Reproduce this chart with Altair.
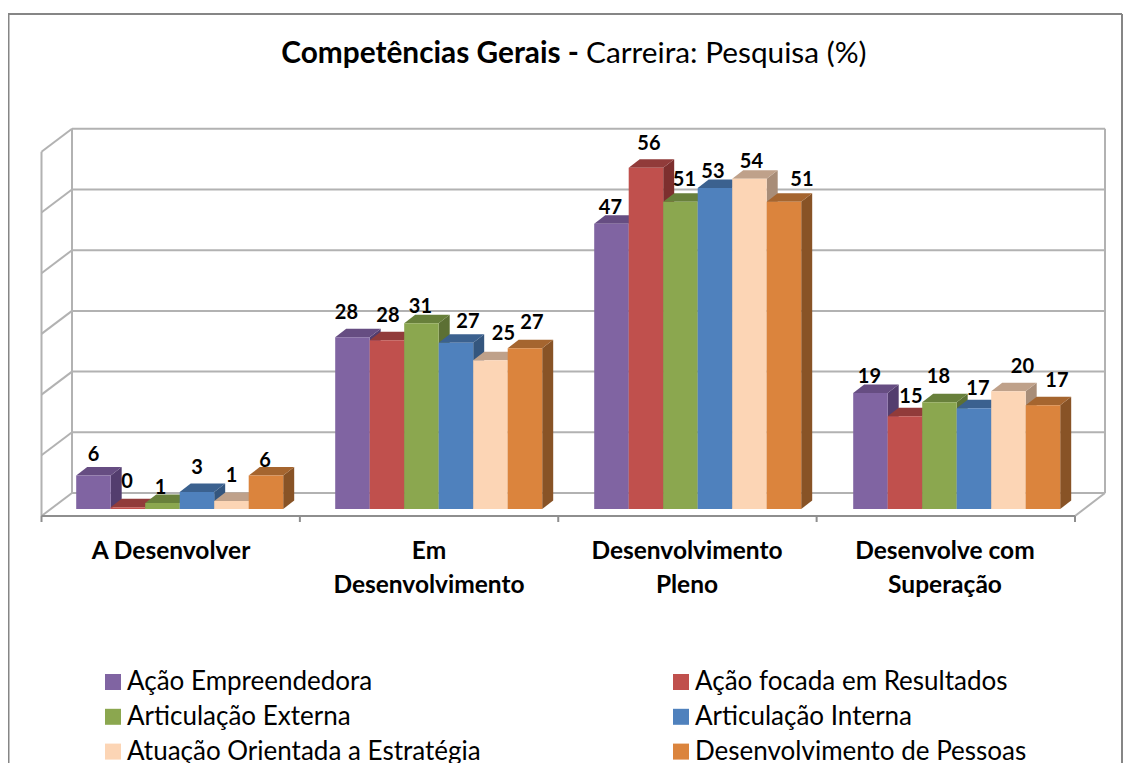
import altair as alt
import pandas as pd

categories = ["A Desenvolver", "Em\nDesenvolvimento", "Desenvolvimento\nPleno", "Desenvolve com\nSuperação"]
series = ["Ação Empreendedora", "Ação focada em Resultados", "Articulação Externa",
          "Articulação Interna", "Atuação Orientada a Estratégia", "Desenvolvimento de Pessoas"]
front_colors = ["#8064A2", "#C0504D", "#8BA74F", "#4F81BD", "#FCD5B5", "#DB843D"]
top_colors = ["#664D82", "#913B3A", "#68803B", "#3B618F", "#BFA18A", "#A5652F"]
side_colors = ["#533D6E", "#7D2F2E", "#5C7034", "#34567E", "#A88D78", "#885326"]

# label shown on each bar, and its height (%)
labels = [[6, 0, 1, 3, 1, 6], [28, 28, 31, 27, 25, 27], [47, 56, 51, 53, 54, 51], [19, 15, 18, 17, 20, 17]]
heights = [[5.5, 0.3, 1.0, 2.8, 1.3, 5.5],
           [28.3, 27.8, 30.6, 27.4, 24.5, 26.5],
           [47.0, 56.2, 50.6, 52.9, 54.4, 50.6],
           [19.1, 15.3, 17.6, 16.6, 19.4, 17.1]]
# hand placement of the data labels, relative to the bar top (px)
label_dx = [[0, -1, -2, 0, 0, -1], [-6, 1, -1, 12, 13, 7], [-1, 3, 4, -2, 2, 18], [-1, 6, -1, 4, 14, 14]]
label_dy = [[-21, -25, -15, -24, -25, -15], [-24, -24, -16, -21, -26, -25],
            [-16, -24, -22, -16, -17, -22], [-16, -19, -25, -19, -24, -24]]
grid_values = [0, 10, 20, 30, 40, 50, 60]

PX = 6.07          # px per percent
BASE = 509         # page y of value 0 at the bars' front
W, H = 1115, 755
def X(px): return px - 8
def Y(py): return (BASE - py) / PX

xs = alt.Scale(domain=[0, W], nice=False, zero=False)
ys = alt.Scale(domain=[Y(8 + H), Y(8)], nice=False, zero=False)
xq = alt.X("x:Q", scale=xs, axis=None)
yq = alt.Y("y:Q", scale=ys, axis=None)
FONT = "Lato"

# painter-ordered faces of the 3D bars
BAR_W, DX, DY = 34.5, 11, 8.5 / PX
rows, texts = [], []
fid = 0
for g in range(4):
    for i in range(6):
        v = heights[g][i]
        x0 = X(76.2 + 259 * g + BAR_W * i)
        x1 = x0 + BAR_W
        faces = [
            (side_colors[i], [(x1, 0, v), (x1 + DX, DY, v + DY)]),
            (top_colors[i], [(x0, v, v), (x0 + DX, v, v + DY), (x1, v, v + DY), (x1 + DX, v + DY, v + DY)]),
            (front_colors[i], [(x0, 0, v), (x1, 0, v)]),
        ]
        for col, pts in faces:
            fid += 1
            for (px, a, b) in pts:
                rows.append({"x": px, "y": a, "y2": b, "col": col, "face": f"f{fid:03d}"})
        texts.append({"x": (x0 + x1) / 2 + label_dx[g][i], "y": v - label_dy[g][i] / PX,
                      "t": str(labels[g][i]), "series": series[i]})
faces_df = pd.DataFrame(rows)
text_df = pd.DataFrame(texts)

bars = alt.Chart(faces_df).mark_area(interpolate="linear").encode(
    x=xq, y=yq, y2="y2:Q",
    fill=alt.Fill("col:N", scale=None),
    detail="face:N",
)

# walls and floor
LINE = "#B2B2B2"
back_l, back_r, front_l, front_r = X(72), X(1105), X(41.5), X(1075)
back_shift = Y(493)
front_shift = Y(516)
grid_df = pd.DataFrame([{"x": back_l, "x2": back_r, "y": v + back_shift} for v in grid_values])
grid = alt.Chart(grid_df).mark_rule(color=LINE, strokeWidth=2).encode(x=xq, x2="x2:Q", y=yq)
vert_df = pd.DataFrame([
    {"x": back_l, "y": back_shift, "y2": 60 + back_shift},
    {"x": back_r, "y": back_shift, "y2": 60 + back_shift},
    {"x": front_l, "y": front_shift, "y2": 60 + front_shift},
])
verts = alt.Chart(vert_df).mark_rule(color=LINE, strokeWidth=2).encode(x=xq, y=yq, y2="y2:Q")
side_rows = []
for v in grid_values:
    side_rows += [{"x": front_l, "y": v + front_shift, "k": f"l{v}"}, {"x": back_l, "y": v + back_shift, "k": f"l{v}"}]
side_rows += [{"x": front_r, "y": front_shift, "k": "r"}, {"x": back_r, "y": back_shift, "k": "r"}]
side = alt.Chart(pd.DataFrame(side_rows)).mark_line(color=LINE, strokeWidth=2).encode(x=xq, y=yq, detail="k:N")

AXC = "#8E8E8E"
axis_line = alt.Chart(pd.DataFrame([{"x": front_l, "x2": front_r, "y": front_shift}])).mark_rule(
    color=AXC, strokeWidth=2).encode(x=xq, x2="x2:Q", y=yq)
tick_df = pd.DataFrame([{"x": front_l + k * (front_r - front_l) / 4, "y": front_shift, "y2": Y(522)} for k in range(5)])
ticks = alt.Chart(tick_df).mark_rule(color=AXC, strokeWidth=2).encode(x=xq, y=yq, y2="y2:Q")

# data labels
value_labels = alt.Chart(text_df).mark_text(font=FONT, fontWeight="bold", fontSize=20, color="black",
                                            align="center", baseline="middle").encode(x=xq, y=yq, text="t:N")

# category labels
cat_df = pd.DataFrame([{"x": X(171 + 258 * k), "y": Y(539.5), "t": c} for k, c in enumerate(categories)])
cat_labels = alt.Chart(cat_df).mark_text(font=FONT, fontWeight="bold", fontSize=24.5, color="black", align="center",
                                         baseline="top", lineBreak="\n", lineHeight=34).encode(x=xq, y=yq, text="t:N")

# title in two weights
t1 = alt.Chart(pd.DataFrame([{"x": X(579), "y": Y(63), "t": "Competências Gerais -"}])).mark_text(
    font=FONT, fontWeight="bold", fontSize=29.8, align="right", baseline="alphabetic", color="black").encode(x=xq, y=yq, text="t:N")
t2 = alt.Chart(pd.DataFrame([{"x": X(586), "y": Y(63), "t": "Carreira: Pesquisa (%)"}])).mark_text(
    font=FONT, fontSize=29.8, align="left", baseline="alphabetic", color="black").encode(x=xq, y=yq, text="t:N")

# outer frame
BORDER = "#868686"
frame = alt.Chart(pd.DataFrame({"a": [0]})).mark_rule(color=BORDER, strokeWidth=2)
frame_t = frame.encode(x=alt.value(0), x2=alt.value(1114), y=alt.value(6))
frame_l = frame.encode(x=alt.value(0.5), y=alt.value(6), y2=alt.value(H))
frame_r = frame.encode(x=alt.value(1114), y=alt.value(6), y2=alt.value(H))

# legend carrier
legend_layer = alt.Chart(text_df).mark_square(opacity=0, size=1).encode(
    x=xq, y=yq,
    color=alt.Color("series:N", sort=series,
                    scale=alt.Scale(domain=series, range=front_colors),
                    legend=alt.Legend(title=None, orient="none", legendX=92, legendY=661, columns=2,
                                      direction="horizontal",
                                      symbolType="square", symbolSize=256, symbolOpacity=1, symbolStrokeWidth=0,
                                      labelFont=FONT, labelFontSize=26, labelColor="black", labelLimit=420,
                                      labelOffset=1, rowPadding=8.8, columnPadding=187, padding=0, gridAlign="all")),
)

chart = alt.layer(
    frame_t, frame_l, frame_r, grid, verts, side, axis_line, ticks, bars, value_labels,
    cat_labels, t1, t2, legend_layer).properties(
    width=W, height=H, padding=0, autosize=alt.AutoSizeParams(type="none"), background="white",
).configure_view(stroke=None)

chart.save("out.html", embed_options={"renderer": "svg", "actions": False})
